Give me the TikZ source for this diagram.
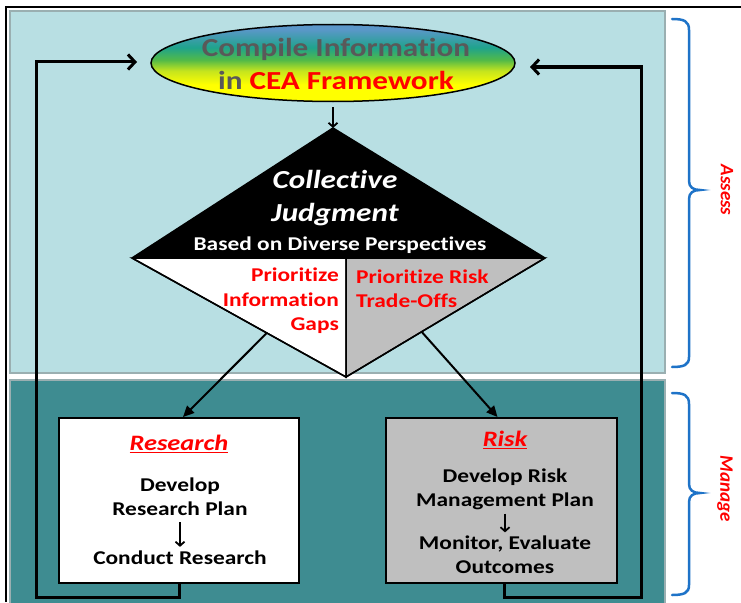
\documentclass[tikz,border=0pt]{standalone}
\usepackage{fontspec}
\setmainfont{Carlito}[FakeStretch=1.2,Ligatures=NoCommon]
\newfontfamily\rotfont{Carlito}[Ligatures=NoCommon]
\usetikzlibrary{shapes.geometric,arrows.meta,calc}
\definecolor{panelA}{HTML}{B8DFE3}
\definecolor{panelB}{HTML}{3E8C91}
\definecolor{panelEdge}{HTML}{9AAFB1}
\definecolor{braceblue}{HTML}{1E73C8}
\definecolor{txtgray}{HTML}{595959}
\definecolor{cgray}{HTML}{BFBFBF}
\definecolor{cred}{HTML}{FF0000}
\definecolor{shY}{HTML}{FFFF00}
\definecolor{shYG}{HTML}{C4E41E}
\definecolor{shG}{HTML}{52BA48}
\definecolor{shT}{HTML}{1FA38C}
\definecolor{shB}{HTML}{5B97C9}
\pgfdeclareverticalshading{ceashade}{100bp}{color(0bp)=(shY); color(36bp)=(shY); color(45bp)=(shYG); color(52bp)=(shG); color(60bp)=(shT); color(72bp)=(shB); color(100bp)=(shB)}
\tikzset{
  loopline/.style={line width=3pt, line join=miter, -{Straight Barb[length=7pt,width=15pt]}},
  darrow/.style={line width=2pt, -{Triangle[length=11pt,width=10pt]}},
  smallarrow/.style={line width=1.8pt, -{Straight Barb[length=4pt,width=9pt]}},
  boxtxt/.style={font=\bfseries\fontsize{19.5}{24}\selectfont, align=center, inner sep=0pt},
  redtxt/.style={font=\bfseries\fontsize{19.5}{24.5}\selectfont, text=cred, inner sep=0pt},
  titletxt/.style={font=\bfseries\itshape\fontsize{22}{24}\selectfont, text=cred, inner sep=0pt},
  sidetxt/.style={font=\rotfont\bfseries\itshape\fontsize{19}{19}\selectfont, text=cred, rotate=-90, inner sep=0pt},
  bracepath/.style={draw=braceblue, line width=2.5pt, line cap=round},
  boxstyle/.style={draw=black, line width=2pt, inner sep=0pt, minimum height=165pt}
}
\begin{document}
\begin{tikzpicture}[x=1pt,y=-1pt]
\useasboundingbox (0,0) rectangle (741,602);
\fill[white] (0,0) rectangle (741,602);
% panels
\fill[panelA] (10,11) rectangle (665,373);
\draw[panelEdge, line width=1.5pt] (10,11) rectangle (665,373);
\fill[panelB] (10,380) rectangle (665,606);
\draw[panelEdge, line width=1.5pt] (10,606) -- (10,380) -- (665,380) -- (665,606);
% outer frame
\draw[black, line width=2pt] (6,602) -- (6,7) -- (741,7);
% braces
\draw[bracepath] (672,19) .. controls (684,19) and (689,21) .. (689,30) -- (689,181)
  .. controls (689,187) and (693,190) .. (700,190)
  .. controls (693,190) and (689,193) .. (689,199) -- (689,357)
  .. controls (689,365) and (684,367) .. (672,367);
\draw[bracepath] (672,393) .. controls (684,393) and (689,395) .. (689,404) -- (689,484)
  .. controls (689,490) and (693,493) .. (700,493)
  .. controls (693,493) and (689,496) .. (689,502) -- (689,585)
  .. controls (689,593) and (684,595) .. (672,595);
\node[sidetxt] (assess) at (727,190) {Assess};
\node[sidetxt] (manage) at (725,489) {Manage};
% diamond
\coordinate (T) at (333,128);
\coordinate (L) at (132,258);
\coordinate (R) at (545,258);
\coordinate (B) at (346,377);
\coordinate (M) at (346,258);
\fill[black] (T) -- (L) -- (R) -- cycle;
\filldraw[fill=white, draw=black, line width=1.5pt] (L) -- (M) -- (B) -- cycle;
\filldraw[fill=cgray, draw=black, line width=1.5pt] (M) -- (R) -- (B) -- cycle;
\draw[line width=1.5pt, line join=round] (T) -- (L) -- (B) -- (R) -- cycle;
\node[font=\bfseries\itshape\fontsize{26}{33}\selectfont, text=white, align=center, inner sep=0pt] (cj) at (335,198.5) {Collective\\Judgment};
\node[font=\bfseries\fontsize{19.5}{20}\selectfont, text=white, inner sep=0pt] (bdp) at (340,245) {Based on Diverse Perspectives};
\node[redtxt, align=right, anchor=east] (pig) at (339,301) {Prioritize\\Information\\Gaps};
\node[redtxt, align=left, anchor=west] (prt) at (356,288.5) {Prioritize Risk\\Trade-Offs};
% ellipse
\node[ellipse, draw=black, line width=1.5pt, shading=ceashade, minimum width=364pt, minimum height=77pt, inner sep=0pt] (cea) at (333,63) {};
\node[font=\bfseries\fontsize{26}{33}\selectfont, text=txtgray, align=center, inner sep=0pt] (ceatxt) at (336,64) {Compile Information\\in \textcolor{cred}{CEA Framework}};
\draw[smallarrow] ($(cea.south)+(0,5)$) -- (T);
% boxes
\node[boxstyle, fill=white, minimum width=240pt] (research) at (179,500.5) {};
\node[boxstyle, fill=cgray, minimum width=231pt] (risk) at (501.5,500.5) {};
\node[titletxt] (rt) at (179,444) {\underline{Research}};
\node[boxtxt] (rp) at (180,497) {Develop\\Research Plan};
\node[boxtxt] (cr) at (180,558) {Conduct Research};
\draw[smallarrow] ($(rp.south)+(0,6)$) -- ($(cr.north)+(0,-4)$);
\node[titletxt] (kt) at (505,440) {\underline{Risk}};
\node[boxtxt] (kp) at (505,489) {Develop Risk\\Management Plan};
\node[boxtxt] (km) at (505,554.5) {Monitor, Evaluate\\Outcomes};
\draw[smallarrow] ($(kp.south)+(0,4)$) -- ($(km.north)+(0,-3)$);
% diamond to boxes
\coordinate (dl) at ($(L)!0.63!(B)$);
\coordinate (dr) at ($(R)!0.62!(B)$);
\draw[darrow] (dl) -- ($(research.north)+(4,0)$);
\draw[darrow] (dr) -- ($(risk.north)+(-4,0)$);
% feedback loops
\coordinate (lc) at (36,597);
\coordinate (lin) at (137,62);
\coordinate (rc) at (641,597);
\coordinate (rin) at (530,67);
\draw[loopline] (research.south) |- (lc) |- (lin);
\draw[loopline] ($(risk.south)+(3,0)$) |- (rc) |- (rin);
\end{tikzpicture}
\end{document}
